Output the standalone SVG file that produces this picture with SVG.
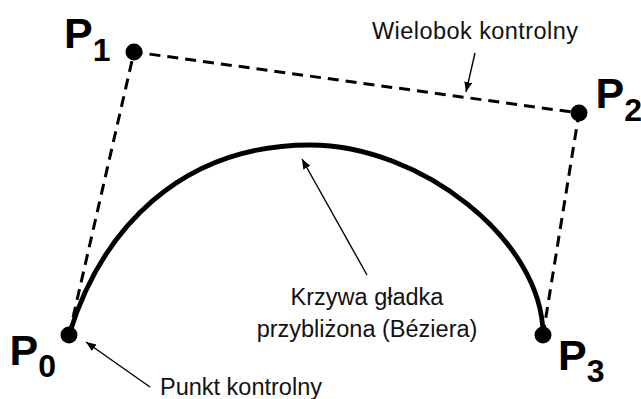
<svg xmlns="http://www.w3.org/2000/svg" width="641" height="399" viewBox="0 0 641 399">
<style>
.poly{fill:none;stroke:#000;stroke-width:3;stroke-dasharray:11 7}
.curve{fill:none;stroke:#000;stroke-width:4.8;stroke-linecap:round}
.dot{fill:#000}
.lead{fill:none;stroke:#000;stroke-width:1.4}
.pl{font-family:"Liberation Sans",Arial,sans-serif;font-weight:bold;font-size:43px;fill:#000}
.sub{font-size:32px}
.lbl{font-family:"Liberation Sans",Arial,sans-serif;font-size:23.5px;fill:#111}
</style>
<defs>
<marker id="ah" markerUnits="userSpaceOnUse" markerWidth="12" markerHeight="10" refX="10" refY="4" orient="auto">
<path d="M0,0 L10,4 L0,8 Z" fill="#000"/>
</marker>
</defs>
<rect width="641" height="399" fill="#fff"/>
<g id="connectors">
<polyline class="poly" points="69,335 134,52 579,113 543,335"/>
<path class="curve" d="M69,335 C101,230 180,145 310,145 C420,145 543,240 543,335"/>
<line class="lead" x1="475" y1="53" x2="466" y2="92" marker-end="url(#ah)"/>
<line class="lead" x1="367" y1="275" x2="302" y2="159" marker-end="url(#ah)"/>
<line class="lead" x1="150" y1="387" x2="86" y2="342" marker-end="url(#ah)"/>
</g>
<g id="P0">
<circle class="dot" cx="69" cy="335" r="8.5"/>
<text class="pl" x="9.5" y="365">P<tspan class="sub" dy="12">0</tspan></text>
</g>
<g id="P1">
<circle class="dot" cx="134" cy="52" r="8.5"/>
<text class="pl" x="64" y="48">P<tspan class="sub" dy="13">1</tspan></text>
</g>
<g id="P2">
<circle class="dot" cx="579" cy="113" r="8.5"/>
<text class="pl" x="595.5" y="108">P<tspan class="sub" dy="13" font-size="29px">2</tspan></text>
</g>
<g id="P3">
<circle class="dot" cx="543" cy="335" r="8.5"/>
<text class="pl" x="558" y="370">P<tspan class="sub" dy="12">3</tspan></text>
</g>
<g id="label-wielobok">
<text class="lbl" x="372" y="39" font-size="24px" textLength="206" lengthAdjust="spacing">Wielobok kontrolny</text>
</g>
<g id="label-krzywa">
<text class="lbl" x="367" y="305" text-anchor="middle">Krzywa gładka</text>
<text class="lbl" x="367" y="337" text-anchor="middle">przybliżona (Béziera)</text>
</g>
<g id="label-punkt">
<text class="lbl" x="160" y="395">Punkt kontrolny</text>
</g>
</svg>
